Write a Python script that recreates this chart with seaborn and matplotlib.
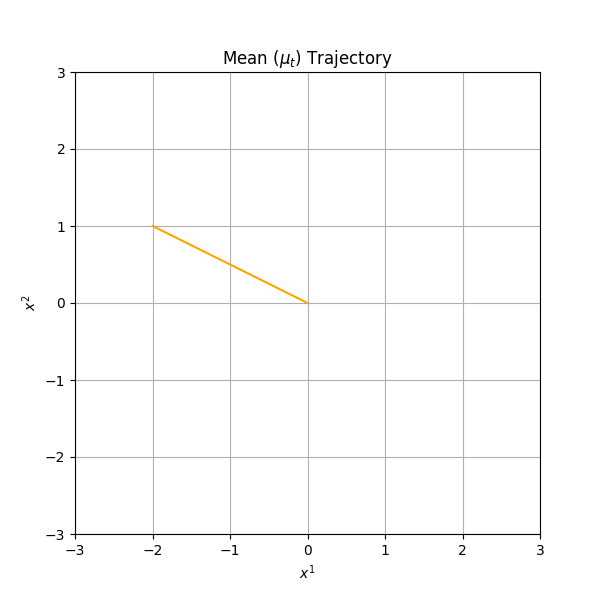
import matplotlib
matplotlib.use("Agg")
import matplotlib.pyplot as plt
import seaborn as sns
import pandas as pd

# mean trajectory points
mu_x1 = [-2.0, 0.0]
mu_x2 = [1.0, 0.0]
ticks = [-3, -2, -1, 0, 1, 2, 3]

df = pd.DataFrame({"x1": mu_x1, "x2": mu_x2})

fig, ax = plt.subplots(figsize=(6, 6), dpi=100)
sns.lineplot(data=df, x="x1", y="x2", sort=False, color="orange", ax=ax)
ax.set_xlim(-3, 3)
ax.set_ylim(-3, 3)
ax.set_xticks(ticks)
ax.set_yticks(ticks)
ax.grid(True)
ax.set_title(r"Mean ($\mu_t$) Trajectory")
ax.set_xlabel(r"$x^1$")
ax.set_ylabel(r"$x^2$")

plt.savefig("out.png")
